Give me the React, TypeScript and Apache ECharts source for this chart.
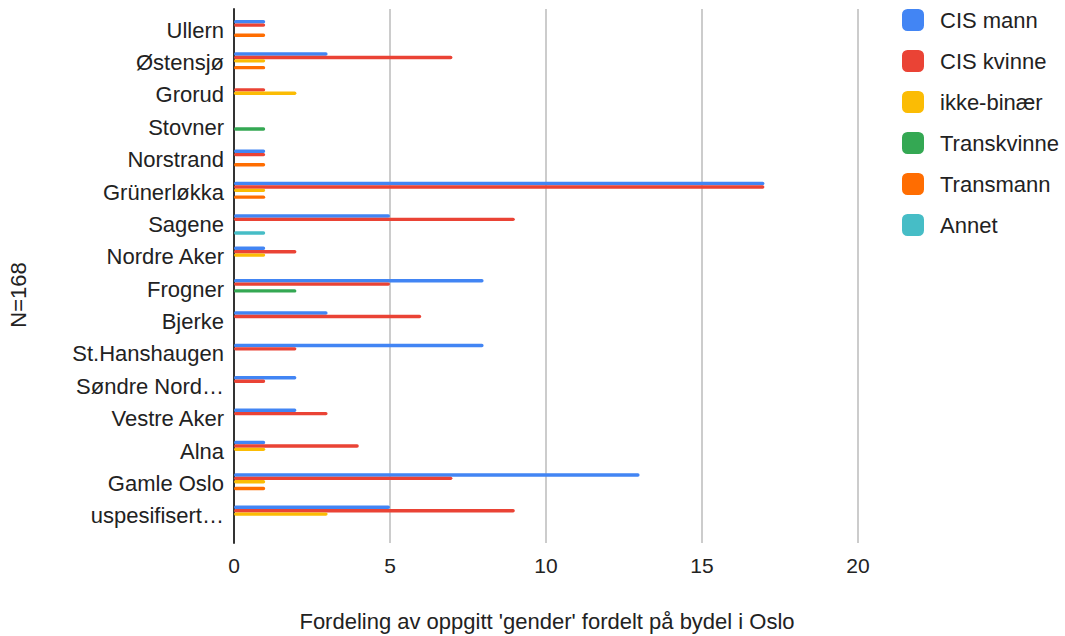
import React, { useEffect, useRef } from "react";
import * as echarts from "echarts";

const categories = [
  "Ullern", "Østensjø", "Grorud", "Stovner", "Norstrand", "Grünerløkka", "Sagene",
  "Nordre Aker", "Frogner", "Bjerke", "St.Hanshaugen", "Søndre Nord…", "Vestre Aker",
  "Alna", "Gamle Oslo", "uspesifisert…",
];
const seriesNames = ["CIS mann", "CIS kvinne", "ikke-binær", "Transkvinne", "Transmann", "Annet"];
const cisMann = [1, 3, 0, 0, 1, 17, 5, 1, 8, 3, 8, 2, 2, 1, 13, 5];
const cisKvinne = [1, 7, 1, 0, 1, 17, 9, 2, 5, 6, 2, 1, 3, 4, 7, 9];
const ikkeBinaer = [0, 1, 2, 0, 0, 1, 0, 1, 0, 0, 0, 0, 0, 1, 1, 3];
const transkvinne = [0, 0, 0, 1, 0, 0, 0, 0, 2, 0, 0, 0, 0, 0, 0, 0];
const transmann = [1, 1, 0, 0, 1, 1, 0, 0, 0, 0, 0, 0, 0, 0, 1, 0];
const annet = [0, 0, 0, 0, 0, 0, 1, 0, 0, 0, 0, 0, 0, 0, 0, 0];
const xTicks = [0, 5, 10, 15, 20];
const colors = ["#4285F4", "#EA4335", "#FBBC04", "#34A853", "#FF6D01", "#46BDC6"];
const yTitle = "N=168";
const xTitle = "Fordeling av oppgitt 'gender' fordelt på bydel i Oslo";

export default function App() {
  const ref = useRef<HTMLDivElement>(null);
  useEffect(() => {
    if (!ref.current) return;
    const chart = echarts.init(ref.current, null, { renderer: "svg" });
    const values = [cisMann, cisKvinne, ikkeBinaer, transkvinne, transmann, annet];
    const font = "'Liberation Sans', Arial, sans-serif";
    chart.setOption({
      animation: false,
      textStyle: { fontFamily: font },
      legend: {
        orient: "vertical",
        left: 902,
        top: 9,
        padding: 0,
        itemWidth: 22,
        itemHeight: 22,
        itemGap: 19,
        icon: "roundRect",
        textStyle: { fontSize: 22, color: "#222", fontFamily: font, padding: [0, 0, 0, 11] },
        data: seriesNames,
      },
      grid: [
        { left: 234, top: 9, width: 624, height: 534, containLabel: false },
        { left: 234, top: 14, width: 624, height: 518, containLabel: false },
      ],
      xAxis: [
        {
          gridIndex: 0,
          type: "value",
          min: xTicks[0],
          max: xTicks[xTicks.length - 1],
          interval: 5,
          axisLine: { show: false },
          axisTick: { show: false },
          splitLine: { show: true, lineStyle: { color: "#cccccc", width: 2 } },
          axisLabel: { fontSize: 21, color: "#222", margin: 12, fontFamily: font },
        },
        {
          gridIndex: 1,
          type: "value",
          min: xTicks[0],
          max: xTicks[xTicks.length - 1],
          interval: 5,
          show: false,
        },
      ],
      yAxis: [
        {
          gridIndex: 0,
          type: "value",
          min: 0,
          max: 1,
          axisLine: { show: true, lineStyle: { color: "#333", width: 2 } },
          axisTick: { show: false },
          axisLabel: { show: false },
          splitLine: { show: false },
        },
        {
          gridIndex: 1,
          type: "category",
          inverse: true,
          data: categories,
          axisLine: { show: false },
          axisTick: { show: false },
          axisLabel: { fontSize: 22, color: "#222", margin: 10, fontFamily: font },
        },
      ],
      series: seriesNames.map((name, i) => ({
        name,
        type: "bar",
        xAxisIndex: 1,
        yAxisIndex: 1,
        data: values[i],
        barGap: "0%",
        barCategoryGap: "37%",
        itemStyle: { color: colors[i], borderRadius: 2 },
      })),
      graphic: [
        {
          type: "text",
          x: 18,
          y: 295,
          rotation: Math.PI / 2,
          style: {
            text: yTitle,
            fontSize: 22,
            fill: "#222",
            fontFamily: font,
            align: "center",
            verticalAlign: "middle",
          },
        },
        {
          type: "text",
          x: 547,
          y: 621,
          style: {
            text: xTitle,
            fontSize: 22,
            fill: "#222",
            fontFamily: font,
            align: "center",
            verticalAlign: "middle",
          },
        },
      ],
    });
    return () => chart.dispose();
  }, []);
  return (
    <div
      ref={ref}
      style={{ position: "fixed", left: 0, top: 0, width: 1065, height: 636, background: "#fff" }}
    />
  );
}
